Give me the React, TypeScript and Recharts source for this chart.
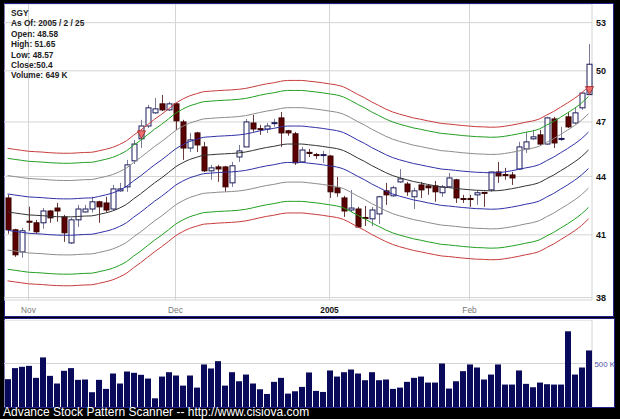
import React from "react";
import {
  ComposedChart,
  Bar,
  Line,
  XAxis,
  YAxis,
  CartesianGrid,
} from "recharts";

// daily candles, Oct 27 2004 .. Feb 25 2005
const opens = [
  42.87, 41.25, 40.16, 41.68, 41.6, 41.6, 42.2, 42.35, 41.9, 40.6,
  41.75, 42.15, 42.3, 42.67, 42.61, 42.3, 43.24, 43.45, 44.84, 46.05,
  46.77, 47.52, 48.04, 47.69, 48.04, 47.0, 45.54, 46.38, 45.6, 44.3,
  44.51, 44.51, 43.66, 45.05, 45.6, 46.94, 46.62, 46.6, 46.92, 47.23,
  46.5, 46.33, 44.78, 45.3, 45.18, 45.14, 45.1, 43.4, 42.87, 42.25,
  42.3, 41.87, 41.8, 42.05, 43.24, 42.98, 43.71, 43.6, 42.93, 43.55,
  43.5, 43.5, 43.14, 43.45, 43.82, 42.84, 42.84, 43.03, 43.16, 43.29,
  44.24, 44.1, 44.08, 44.4, 45.49, 46.05, 46.27, 45.76, 47.17, 46.03,
  47.29, 46.94, 47.81, 48.58,
];
const highs = [
  43.03, 41.3, 41.35, 42.42, 41.75, 42.35, 42.25, 42.61, 42.0, 41.85,
  42.51, 42.51, 42.93, 42.72, 42.93, 43.55, 43.66, 44.89, 45.99, 47.12,
  47.98, 48.38, 48.56, 48.15, 48.09, 47.12, 46.38, 46.44, 45.88, 44.62,
  44.62, 44.57, 44.78, 45.71, 47.17, 47.4, 46.83, 46.94, 47.17, 47.57,
  46.55, 46.44, 45.6, 45.49, 45.27, 45.38, 45.16, 43.98, 42.98, 43.29,
  42.41, 42.46, 42.41, 42.98, 43.66, 43.5, 44.4, 43.71, 43.4, 43.71,
  43.6, 43.76, 43.55, 44.19, 43.87, 43.03, 43.03, 43.29, 43.19, 44.24,
  44.78, 44.46, 44.24, 45.88, 46.44, 46.55, 46.55, 47.29, 47.29, 46.72,
  47.57, 47.81, 48.73, 51.65,
];
const lows = [
  41.05, 39.92, 39.88, 41.2, 41.05, 41.3, 41.6, 41.65, 40.65, 40.55,
  41.39, 42.12, 42.12, 41.6, 42.15, 42.25, 43.19, 43.19, 44.67, 45.54,
  46.66, 47.46, 47.63, 47.63, 46.55, 44.89, 45.32, 45.32, 44.24, 43.82,
  43.71, 43.19, 43.45, 44.78, 45.6, 46.44, 46.27, 46.38, 46.72, 45.6,
  46.22, 44.62, 44.73, 45.05, 44.95, 44.73, 42.87, 42.93, 41.9, 42.15,
  41.34, 41.44, 41.44, 41.54, 42.51, 42.93, 43.66, 42.98, 42.3, 42.87,
  43.03, 42.67, 42.93, 43.4, 42.61, 42.61, 42.41, 42.51, 42.41, 43.19,
  43.66, 43.82, 43.55, 44.35, 45.27, 45.99, 45.71, 45.71, 45.54, 45.93,
  46.66, 46.88, 47.69, 48.57,
];
const closes = [
  41.25, 40.02, 41.2, 41.64, 41.15, 42.2, 41.85, 42.2, 41.1, 41.75,
  42.3, 42.3, 42.67, 42.41, 42.25, 43.34, 43.34, 44.62, 45.76, 46.77,
  47.81, 47.75, 47.69, 48.04, 47.06, 45.54, 45.99, 45.71, 44.3, 44.46,
  44.4, 43.45, 44.57, 45.38, 47.0, 46.6, 46.58, 46.77, 46.96, 46.38,
  46.38, 44.73, 45.43, 45.25, 45.14, 45.18, 43.19, 43.14, 42.2, 42.35,
  41.39, 41.83, 42.25, 42.93, 43.03, 43.4, 43.87, 43.19, 43.24, 43.29,
  43.4, 43.19, 43.45, 43.92, 42.87, 42.8, 42.8, 43.14, 43.12, 44.24,
  44.03, 44.06, 43.92, 45.6, 45.88, 46.16, 45.76, 47.23, 45.82, 46.07,
  46.72, 47.52, 48.67, 50.4,
];
// volume in thousands
const volumes = [
  320, 447, 462, 473, 335, 570, 358, 270, 416, 447,
  312, 316, 170, 312, 208, 385, 270, 408, 393, 370,
  327, 100, 350, 400, 362, 246, 362, 223, 489, 443,
  527, 246, 400, 296, 373, 270, 204, 150, 289, 335,
  154, 181, 231, 397, 185, 173, 420, 350, 400, 431,
  385, 308, 400, 308, 316, 208, 223, 289, 335, 350,
  281, 281, 500, 212, 296, 412, 489, 454, 316, 373,
  489, 258, 258, 420, 266, 227, 281, 262, 258, 258,
  870, 373, 454, 650,
];
// center line of the envelope
const centerLine = [
  42.15, 42.1, 42.05, 42.0, 41.98, 41.96, 41.93, 41.91, 41.9, 41.9,
  41.92, 41.94, 41.95, 42.02, 42.1, 42.2, 42.35, 42.54, 42.82, 43.08,
  43.37, 43.66, 43.92, 44.21, 44.51, 44.73, 44.91, 45.03, 45.14, 45.17,
  45.2, 45.22, 45.24, 45.27, 45.32, 45.4, 45.49, 45.57, 45.63, 45.71,
  45.76, 45.76, 45.76, 45.72, 45.68, 45.63, 45.57, 45.51, 45.4, 45.21,
  45.0, 44.81, 44.59, 44.4, 44.21, 44.05, 43.93, 43.83, 43.73, 43.66,
  43.58, 43.51, 43.44, 43.41, 43.37, 43.33, 43.3, 43.27, 43.26, 43.24,
  43.25, 43.29, 43.35, 43.42, 43.5, 43.57, 43.68, 43.88, 44.07, 44.3,
  44.53, 44.78, 45.07, 45.43,
];
// envelope widths, percent
const bandPct = [2.2, 4.5, 6.7, 8.0];
const bandColors = ["#3030a8", "#8c8c8c", "#22a022", "#c83c3c"];

const monthTicks = [3, 24, 46, 66];
const monthLabels = ["Nov", "Dec", "2005", "Feb"];
const priceTicks = [38, 41, 44, 47, 50, 53];
const signalDays = [19, 83];

const info = [
  "SGY",
  "As Of: 2005 / 2 / 25",
  "Open: 48.58",
  "High: 51.65",
  "Low: 48.57",
  "Close:50.4",
  "Volume: 649 K",
];

const FONT = '"Liberation Sans", Arial, sans-serif';

const priceData = opens.map((o, i) => {
  const row: any = {
    i,
    open: o,
    high: highs[i],
    low: lows[i],
    close: closes[i],
    range: [lows[i], highs[i]],
    mid: centerLine[i],
    signal: signalDays.includes(i),
  };
  bandPct.forEach((p, k) => {
    row[`up${k}`] = centerLine[i] * (1 + p / 100);
    row[`dn${k}`] = centerLine[i] * (1 - p / 100);
  });
  return row;
});

const volumeData = volumes.map((v, i) => ({ i, vol: v }));

function Candle(props: any) {
  const { x, y, width, height, payload } = props;
  if (x == null || !payload) return null;
  const top = Math.min(y, y + height);
  const h = Math.abs(height);
  const lnH = Math.log(payload.high);
  const lnL = Math.log(payload.low);
  const toY = (v: number) =>
    lnH === lnL ? top : top + ((lnH - Math.log(v)) / (lnH - lnL)) * h;
  const cx = Math.floor(x + width / 2) + 0.5;
  const yo = toY(payload.open);
  const yc = toY(payload.close);
  const up = payload.close >= payload.open;
  const bTop = Math.min(yo, yc);
  const bH = Math.max(Math.abs(yo - yc), 1);
  return (
    <g>
      <line
        x1={cx}
        x2={cx}
        y1={top}
        y2={top + h}
        stroke={up ? "#7a7a9a" : "#6a3a3a"}
        strokeWidth={1}
      />
      <rect
        x={cx - 2.5}
        y={bTop}
        width={5}
        height={bH}
        fill={up ? "#ffffff" : "#5a0000"}
        stroke={up ? "#1a1a5a" : "#3a0000"}
        strokeWidth={1}
      />
      {payload.signal && (
        <polygon
          points={`${cx - 4},${yo - 8} ${cx + 4},${yo - 8} ${cx},${yo}`}
          fill="#f07070"
          stroke="#902020"
          strokeWidth={0.8}
        />
      )}
    </g>
  );
}

function MonthTick(props: any) {
  const { x, y, payload } = props;
  const label = monthLabels[monthTicks.indexOf(payload.value)];
  const bold = label === "2005";
  return (
    <text
      x={x}
      y={y}
      dy={11}
      textAnchor="middle"
      fontSize={8.3}
      fontFamily={FONT}
      fontWeight={bold ? "bold" : "normal"}
      fill={bold ? "#111" : "#777"}
    >
      {label}
    </text>
  );
}

function PriceTick(props: any) {
  const { x, y, payload } = props;
  return (
    <text
      x={x + 2}
      y={y}
      dy={3.5}
      textAnchor="start"
      fontSize={9}
      fontFamily={FONT}
      fontWeight="bold"
      fill="#111"
    >
      {payload.value}
    </text>
  );
}

function VolTick(props: any) {
  const { x, y, payload } = props;
  return (
    <text
      x={x + 0.5}
      y={y}
      dy={3}
      textAnchor="start"
      fontSize={7.8}
      fontFamily={FONT}
      fill="#5050a8"
    >
      {payload.value} K
    </text>
  );
}

export default function App() {
  return (
    <div
      style={{
        position: "absolute",
        left: 0,
        top: 0,
        width: 620,
        height: 419,
        background: "#000",
        overflow: "hidden",
        fontFamily: FONT,
      }}
    >
      <div
        style={{
          position: "absolute",
          left: 4,
          top: 3,
          width: 610,
          height: 314,
          background: "#fff",
          boxSizing: "border-box",
          border: "1px solid #22228a",
        }}
      />
      <div
        style={{
          position: "absolute",
          left: 4,
          top: 318,
          width: 611,
          height: 90,
          background: "#fff",
          boxSizing: "border-box",
          border: "1px solid #22228a",
        }}
      />
      <div style={{ position: "absolute", left: 4, top: 4 }}>
        <ComposedChart
          width={610}
          height={313}
          data={priceData}
          margin={{ top: 0, right: 0, bottom: 0, left: 0 }}
        >
          <CartesianGrid stroke="#d4d4d4" />
          <XAxis
            dataKey="i"
            type="category"
            ticks={monthTicks}
            interval={0}
            height={17}
            axisLine={false}
            tickLine={false}
            tickSize={0}
            tick={<MonthTick />}
          />
          <YAxis
            orientation="right"
            width={22}
            scale="log"
            domain={[37.89, 54.21]}
            allowDataOverflow
            ticks={priceTicks}
            interval={0}
            axisLine={false}
            tickLine={false}
            tickSize={0}
            tick={<PriceTick />}
          />
          {[3, 2, 1, 0].map((k) => (
            <Line
              key={`up${k}`}
              dataKey={`up${k}`}
              type="monotone"
              stroke={bandColors[k]}
              strokeWidth={1}
              dot={false}
              activeDot={false}
              isAnimationActive={false}
            />
          ))}
          <Line
            dataKey="mid"
            type="monotone"
            stroke="#333"
            strokeWidth={1}
            dot={false}
            activeDot={false}
            isAnimationActive={false}
          />
          {[0, 1, 2, 3].map((k) => (
            <Line
              key={`dn${k}`}
              dataKey={`dn${k}`}
              type="monotone"
              stroke={bandColors[k]}
              strokeWidth={1}
              dot={false}
              activeDot={false}
              isAnimationActive={false}
            />
          ))}
          <Bar
            dataKey="range"
            barSize={6}
            shape={(p: any) => <Candle {...p} />}
            isAnimationActive={false}
          />
        </ComposedChart>
      </div>
      <div
        style={{
          position: "absolute",
          left: 11,
          top: 8,
          fontSize: 8.3,
          fontWeight: "bold",
          color: "#222",
          lineHeight: "10.4px",
          whiteSpace: "pre",
        }}
      >
        {info.map((t) => (
          <div key={t}>{t}</div>
        ))}
      </div>
      <div style={{ position: "absolute", left: 4, top: 320 }}>
        <ComposedChart
          width={613}
          height={87}
          data={volumeData}
          margin={{ top: 0, right: 0, bottom: 0, left: 0 }}
        >
          <CartesianGrid stroke="#d4d4d4" />
          <XAxis
            dataKey="i"
            type="category"
            ticks={monthTicks}
            interval={0}
            height={0}
            axisLine={false}
            tickLine={false}
            tick={false}
          />
          <YAxis
            orientation="right"
            width={25}
            domain={[0, 1000]}
            allowDataOverflow
            ticks={[500]}
            axisLine={false}
            tickLine={false}
            tickSize={0}
            tick={<VolTick />}
          />
          <Bar
            dataKey="vol"
            barSize={6}
            fill="#0a0a5a"
            isAnimationActive={false}
          />
        </ComposedChart>
      </div>
      <div
        style={{
          position: "absolute",
          left: 3,
          top: 406,
          fontSize: 12,
          color: "#fff",
          whiteSpace: "pre",
          lineHeight: "13px",
        }}
      >
        Advance Stock Pattern Scanner -- http://www.cisiova.com
      </div>
    </div>
  );
}
